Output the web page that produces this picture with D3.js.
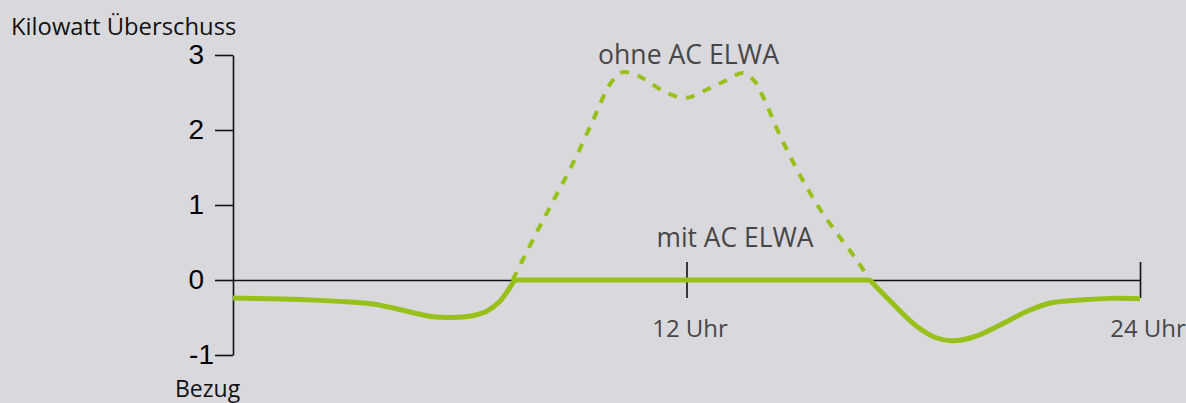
<!DOCTYPE html>
<html>
<head>
<meta charset="utf-8">
<script src="https://cdn.jsdelivr.net/npm/d3@7"></script>
<style>
  html, body { margin: 0; padding: 0; background: #d9d8dd; }
  svg { display: block; }
</style>
</head>
<body>
<svg id="chart" width="1186" height="403"></svg>
<script>
// ---- data ----
const yTicks = [-1, 0, 1, 2, 3];
const xTicks = [12, 24];
const xTickLabels = ["12 Uhr", "24 Uhr"];
const yTitle = "Kilowatt Überschuss";
const yBottomTitle = "Bezug";
const seriesNames = ["ohne AC ELWA", "mit AC ELWA"];

// without AC ELWA (dashed), hours / kW
const ohneHours  = [7.4, 8, 8.5, 9, 9.5, 10, 10.3, 10.7, 11, 11.5, 12, 12.5, 13, 13.5, 13.8, 14, 14.5, 15, 15.5, 16, 16.5, 16.85];
const ohneValues = [0, 0.6, 1.08, 1.56, 2.1, 2.63, 2.77, 2.73, 2.64, 2.49, 2.43, 2.53, 2.65, 2.76, 2.65, 2.47, 1.9, 1.4, 0.97, 0.61, 0.27, 0];

// with AC ELWA (solid)
const mitMorningHours  = [0, 1, 2, 3, 3.7, 4.3, 4.8, 5.3, 5.8, 6.3, 6.7, 7.05, 7.3, 7.45];
const mitMorningValues = [-0.24, -0.25, -0.265, -0.29, -0.32, -0.38, -0.44, -0.49, -0.5, -0.48, -0.42, -0.29, -0.12, 0];
const mitFlatHours  = [7.45, 16.85];
const mitFlatValues = [0, 0];
const mitEveningHours  = [16.85, 17.45, 18.1, 18.6, 19.05, 19.6, 20.3, 21, 21.6, 22.3, 23.2, 24];
const mitEveningValues = [0, -0.31, -0.62, -0.77, -0.81, -0.76, -0.6, -0.42, -0.31, -0.27, -0.245, -0.25];

// ---- drawing ----
const svg = d3.select("#chart");
const green = "#97c11a";
const textGrey = "#474747";
const sans = "'Open Sans', 'Noto Sans', sans-serif";

const x = d3.scaleLinear().domain([0, 24]).range([233, 1140]);
const y = d3.scaleLinear().domain([-1, 3]).range([355, 55]);

const zip = (hs, vs) => hs.map((h, i) => [h, vs[i]]);
const line = d3.line().x(d => x(d[0])).y(d => y(d[1])).curve(d3.curveCatmullRom.alpha(0.5));

// y axis
const yAxis = svg.append("g")
  .attr("transform", `translate(${x(0)},0)`)
  .call(d3.axisLeft(y).tickValues(yTicks).tickSize(18).tickSizeOuter(0).tickPadding(11).tickFormat(d3.format("d")));
yAxis.select(".domain").attr("stroke", "#111").attr("stroke-width", 1.6);
yAxis.selectAll(".tick line").attr("stroke", "#111").attr("stroke-width", 1.6);
yAxis.selectAll(".tick text")
  .attr("fill", "#000")
  .style("font-family", "'Liberation Sans', Arial, sans-serif")
  .style("font-size", "28px")
  .attr("dx", d => d < 0 ? 10 : 0)
  .text(d => d < 0 ? "-" + Math.abs(d) : d);

// x axis at zero
const xAxis = svg.append("g")
  .attr("transform", `translate(0,${y(0)})`)
  .call(d3.axisBottom(x).tickValues(xTicks).tickSize(18).tickSizeOuter(0).tickPadding(0)
    .tickFormat((d, i) => xTickLabels[i]));
xAxis.select(".domain").attr("stroke", "#111").attr("stroke-width", 1.6);
xAxis.selectAll(".tick line").attr("stroke", "#111").attr("stroke-width", 1.6).attr("y1", -18).attr("y2", 18);
xAxis.selectAll(".tick text")
  .attr("fill", textGrey)
  .attr("y", 57).attr("dy", 0)
  .attr("dx", (d, i) => i === 0 ? 3 : 7.5)
  .style("font-family", sans)
  .style("font-size", "24px");

// lines
svg.append("path")
  .datum(zip(ohneHours, ohneValues))
  .attr("d", line)
  .attr("fill", "none")
  .attr("stroke", green)
  .attr("stroke-width", 4)
  .attr("stroke-dasharray", "9,9");

[[mitMorningHours, mitMorningValues], [mitFlatHours, mitFlatValues], [mitEveningHours, mitEveningValues]]
  .forEach(([hs, vs]) => {
    svg.append("path")
      .datum(zip(hs, vs))
      .attr("d", line)
      .attr("fill", "none")
      .attr("stroke", green)
      .attr("stroke-width", 5)
      .attr("stroke-linejoin", "round");
  });

// titles and annotations
svg.append("text").attr("x", 11).attr("y", 35).text(yTitle)
  .attr("fill", "#111").style("font-family", sans).style("font-size", "23.8px");
svg.append("text").attr("x", 175).attr("y", 397).text(yBottomTitle)
  .attr("fill", "#111").style("font-family", sans).style("font-size", "23px");

svg.append("text").attr("x", 688.5).attr("y", 64).attr("text-anchor", "middle").text(seriesNames[0])
  .attr("fill", textGrey).style("font-family", sans).style("font-size", "26.6px");
svg.append("text").attr("x", 735).attr("y", 247).attr("text-anchor", "middle").text(seriesNames[1])
  .attr("fill", textGrey).style("font-family", sans).style("font-size", "26.4px");
</script>
</body>
</html>
